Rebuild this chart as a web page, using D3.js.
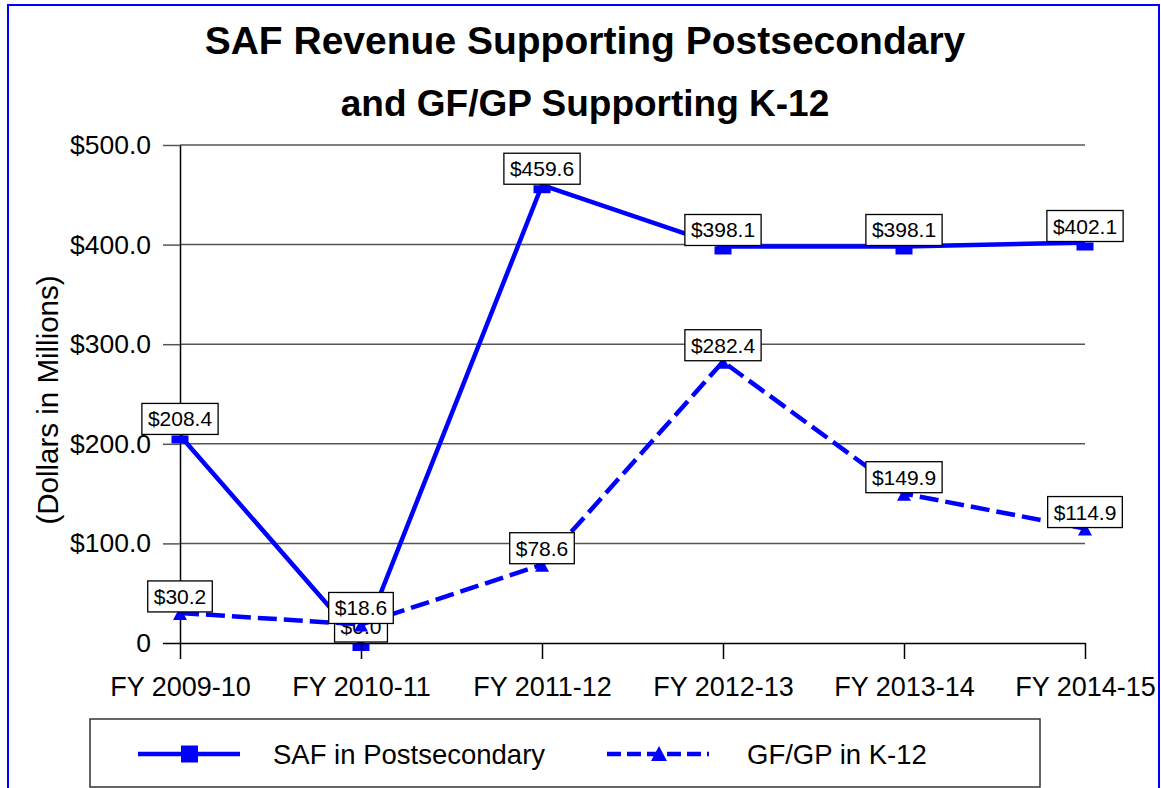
<!DOCTYPE html>
<html>
<head>
<meta charset="utf-8">
<script src="https://cdn.jsdelivr.net/npm/d3@7"></script>
<style>
  html, body { margin: 0; padding: 0; background: #fff; }
  svg { display: block; font-family: "Liberation Sans", Arial, Helvetica, sans-serif; }
</style>
</head>
<body>
<svg id="chart" width="1161" height="788"></svg>
<script>
// Fiscal years on the category axis
const years = ["FY 2009-10", "FY 2010-11", "FY 2011-12", "FY 2012-13", "FY 2013-14", "FY 2014-15"];
// SAF revenue supporting postsecondary ($ millions)
const safPostsecondary = [208.4, 0.0, 459.6, 398.1, 398.1, 402.1];
// GF/GP supporting K-12 ($ millions)
const gfgpK12 = [30.2, 18.6, 78.6, 282.4, 149.9, 114.9];
// Value axis ticks
const yTicks = [0, 100, 200, 300, 400, 500];

const titleLines = ["SAF Revenue Supporting Postsecondary", "and GF/GP Supporting K-12"];
const seriesNames = ["SAF in Postsecondary", "GF/GP in K-12"];

const BLUE = "#0000ff";
const svg = d3.select("#chart");

// outer frame
svg.append("rect")
  .attr("x", 8).attr("y", 5).attr("width", 1151).attr("height", 820)
  .attr("fill", "none").attr("stroke", BLUE).attr("stroke-width", 2);

// title
svg.append("g").selectAll("text").data(titleLines).join("text")
  .attr("x", 585).attr("y", (d, i) => 54 + i * 62)
  .attr("text-anchor", "middle")
  .attr("font-size", (d, i) => i === 0 ? 39 : 37).attr("font-weight", "bold").attr("fill", "#000")
  .text(d => d);

const x = d3.scalePoint().domain(years).range([180, 1085]);
const y = d3.scaleLinear().domain([0, 500]).range([643, 145]);

// horizontal gridlines
svg.append("g").selectAll("line").data(yTicks.filter(d => d > 0)).join("line")
  .attr("x1", 180).attr("x2", 1085)
  .attr("y1", d => y(d)).attr("y2", d => y(d))
  .attr("stroke", "#555").attr("stroke-width", 1.5);

// value axis
const yAxis = svg.append("g").attr("transform", "translate(180,0)")
  .call(d3.axisLeft(y).tickValues(yTicks).tickSize(17).tickSizeOuter(0).tickPadding(12)
    .tickFormat(d => d === 0 ? "0" : "$" + d.toFixed(1)));
yAxis.select(".domain").attr("stroke", "#000").attr("stroke-width", 1.5);
yAxis.selectAll(".tick line").attr("stroke", d => d === 0 ? "#000" : "#555").attr("stroke-width", 1.5);
yAxis.selectAll(".tick text").attr("font-size", 26.5).attr("fill", "#000")
  .attr("font-family", "'Liberation Sans', Arial, sans-serif");

// axis title
svg.append("text")
  .attr("transform", "translate(58,400) rotate(-90)")
  .attr("text-anchor", "middle")
  .attr("font-size", 29.5).attr("fill", "#000")
  .text("(Dollars in Millions)");

const line = d3.line().x((d, i) => x(years[i])).y(d => y(d));

function labelBoxes(g, values, fmt) {
  const lab = g.append("g").selectAll("g").data(values).join("g")
    .attr("transform", (d, i) => `translate(${x(years[i])},${y(d) - 1})`);
  lab.each(function(d) {
    const gg = d3.select(this);
    const t = gg.append("text")
      .attr("text-anchor", "middle").attr("y", -8)
      .attr("font-size", 21).attr("fill", "#000")
      .text(fmt(d));
    const w = t.node().getComputedTextLength() + 12;
    gg.insert("rect", "text")
      .attr("x", -w / 2).attr("y", -31).attr("width", w).attr("height", 31)
      .attr("fill", "#fff").attr("stroke", "#000").attr("stroke-width", 1.3);
  });
}
const fmtMoney = d => "$" + d.toFixed(1);

// SAF series: solid line, square markers, value boxes
const gSaf = svg.append("g");
gSaf.append("path").datum(safPostsecondary)
  .attr("d", line).attr("fill", "none")
  .attr("stroke", BLUE).attr("stroke-width", 4.5).attr("stroke-linejoin", "round");
gSaf.append("g").selectAll("rect").data(safPostsecondary).join("rect")
  .attr("x", (d, i) => x(years[i]) - 8.5).attr("y", d => y(d))
  .attr("width", 17).attr("height", 8).attr("fill", BLUE);
labelBoxes(gSaf, safPostsecondary, fmtMoney);

// GF/GP series: dashed line, triangle markers, value boxes
const gGf = svg.append("g");
gGf.append("path").datum(gfgpK12)
  .attr("d", line).attr("fill", "none")
  .attr("stroke", BLUE).attr("stroke-width", 4.5).attr("stroke-dasharray", "19,7");
gGf.append("g").selectAll("path").data(gfgpK12).join("path")
  .attr("d", (d, i) => {
    const cx = x(years[i]), cy = y(d);
    return `M${cx},${cy - 6}L${cx + 7},${cy + 7}L${cx - 7},${cy + 7}Z`;
  })
  .attr("fill", BLUE);
labelBoxes(gGf, gfgpK12, fmtMoney);

// category axis drawn over the series
const xAxis = svg.append("g").attr("transform", "translate(0,643)")
  .call(d3.axisBottom(x).tickSize(16).tickSizeOuter(0).tickPadding(18));
xAxis.select(".domain").attr("stroke", "#000").attr("stroke-width", 1.5);
xAxis.selectAll(".tick line").attr("stroke", "#000").attr("stroke-width", 1.5);
xAxis.selectAll(".tick text").attr("font-size", 27).attr("fill", "#000")
  .attr("font-family", "'Liberation Sans', Arial, sans-serif");

// legend
const lg = svg.append("g");
lg.append("rect").attr("x", 90).attr("y", 719).attr("width", 950).attr("height", 68)
  .attr("fill", "#fff").attr("stroke", "#333").attr("stroke-width", 1.5);
const ly = 754;
lg.append("line").attr("x1", 138).attr("x2", 240).attr("y1", ly).attr("y2", ly)
  .attr("stroke", BLUE).attr("stroke-width", 4.5);
lg.append("rect").attr("x", 181).attr("y", ly - 8.5).attr("width", 17).attr("height", 17).attr("fill", BLUE);
lg.append("text").attr("x", 273).attr("y", ly + 10).attr("font-size", 27.5).text(seriesNames[0]);
lg.append("line").attr("x1", 607).attr("x2", 709).attr("y1", ly).attr("y2", ly)
  .attr("stroke", BLUE).attr("stroke-width", 4.5).attr("stroke-dasharray", "14,6");
lg.append("path").attr("d", `M659,${ly - 8}L667,${ly + 7}L651,${ly + 7}Z`).attr("fill", BLUE);
lg.append("text").attr("x", 747).attr("y", ly + 10).attr("font-size", 27.5).text(seriesNames[1]);
</script>
</body>
</html>
